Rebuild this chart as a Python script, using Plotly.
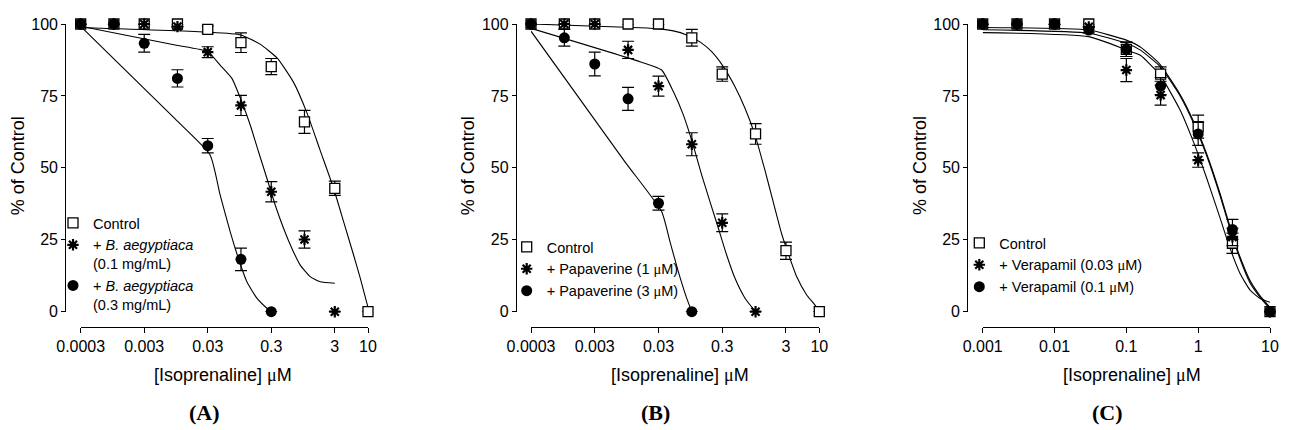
import plotly.graph_objects as go
import math

W, H = 1289, 430

# ---------------- Panel A data ----------------
A_x = [0.0003, 0.001, 0.003, 0.01, 0.03, 0.1, 0.3, 1, 3, 10]
A_ctrl = [100, 100, 100, 100, 98.1, 93.5, 85.2, 66, 42.9, 0]
A_ctrl_err = [0, 0, 0, 0, 1.2, 3.4, 2.8, 4, 2.5, 0]
A_star_x = [0.0003, 0.001, 0.003, 0.01, 0.03, 0.1, 0.3, 1, 3]
A_star = [100, 100, 100, 99.1, 90.2, 71.7, 41.7, 25.1, 0]
A_star_err = [0, 0, 0, 0, 1.9, 3.5, 3.5, 3, 0]
A_circ_x = [0.0003, 0.001, 0.003, 0.01, 0.03, 0.1, 0.3]
A_circ = [100, 100, 93.3, 81.1, 57.7, 18.2, 0]
A_circ_err = [0, 0, 3.1, 3, 2.5, 3.9, 0]

A_ctrl_cx = [0.0003, 0.03, 0.1, 0.2, 0.37, 0.67, 1.09, 1.77, 2.87, 4.13, 5.93, 7.57, 10]
A_ctrl_cy = [98.8, 97.2, 96.2, 93.0, 88.2, 79.8, 69.2, 56.0, 42.9, 31.3, 19.7, 11.6, 1.5]
A_star_cx = [0.0003, 0.0092, 0.03, 0.047, 0.072, 0.103, 0.14, 0.189, 0.256, 0.346, 0.468, 0.634, 0.857, 1.23, 1.77, 3.0]
A_star_cy = [99.2, 92.7, 90.4, 85.7, 81.1, 73, 64.9, 55.6, 46.4, 37.1, 29, 22, 16.2, 12.2, 10.4, 9.9]
A_circ_cx = [0.0003, 0.0092, 0.0327, 0.047, 0.0676, 0.0912, 0.124, 0.178, 0.256, 0.3]
A_circ_cy = [99.2, 67.0, 54.5, 40.6, 27.8, 18.5, 10.4, 4.7, 1.2, 0]

# ---------------- Panel B data ----------------
B_x = [0.0003, 0.001, 0.003, 0.01, 0.03, 0.1, 0.3, 1, 3, 10]
B_ctrl = [100, 100, 100, 100, 100, 95.2, 82.6, 61.8, 21.2, 0]
B_ctrl_err = [0, 0, 0, 0, 0, 2.9, 2.5, 3.6, 3, 0]
B_star_x = [0.0003, 0.001, 0.003, 0.01, 0.03, 0.1, 0.3, 1]
B_star = [100, 100, 100, 91, 78.4, 58.2, 30.9, 0]
B_star_err = [0, 0, 0, 3, 3.5, 4, 3.1, 0]
B_circ_x = [0.0003, 0.001, 0.003, 0.01, 0.03, 0.1]
B_circ = [100, 95.2, 86.1, 74, 37.7, 0]
B_circ_err = [0, 2.9, 4.1, 4, 2.4, 0]

B_ctrl_cx = [0.0003, 0.0154, 0.0317, 0.0513, 0.083, 0.134, 0.205, 0.312, 0.476, 0.683, 0.98, 1.41, 1.9, 2.57, 3.0, 4.41, 6.34, 8.57, 10]
B_ctrl_cy = [100, 98.7, 98.3, 97.6, 96.2, 93.8, 90.4, 85.2, 78.2, 70.7, 61.4, 49, 38, 27, 22.5, 12.2, 5.8, 2.3, 0]
B_star_cx = [0.0003, 0.0154, 0.0336, 0.0513, 0.0736, 0.105, 0.143, 0.193, 0.261, 0.352, 0.476, 0.683, 1.0]
B_star_cy = [98.5, 86.9, 84, 76.5, 68.4, 57.9, 47.5, 38.2, 29, 19.7, 11.6, 4.7, 0]
B_circ_cx = [0.0003, 0.009, 0.0336, 0.0455, 0.0614, 0.083, 0.1]
B_circ_cy = [97.5, 52, 34.8, 24.3, 13.9, 4.7, 0]

# ---------------- Panel C data ----------------
C_x = [0.001, 0.003, 0.01, 0.03, 0.1, 0.3, 1, 3, 10]
C_ctrl = [100, 100, 100, 100, 91.2, 82.6, 64.3, 23.8, 0]
C_ctrl_err = [0, 0, 0, 0, 2.5, 2.5, 4, 3.5, 0]
C_star = [100, 100, 100, 99, 84, 75.3, 52.7, 26, 0]
C_star_err = [0, 0, 0, 0, 4, 3.5, 2.5, 3, 0]
C_circ = [100, 100, 100, 97.9, 91.2, 78.4, 61.8, 28.6, 0]
C_circ_err = [0, 0, 0, 1, 2.5, 3, 4, 3.5, 0]

C_cx = [0.001, 0.03, 0.1, 0.155, 0.294, 0.56, 0.857, 1.315, 2.02, 2.78, 3.83, 5.28, 7.28, 10]
C_ctrl_cy = [98.8, 97.9, 94.4, 92.1, 86, 75.5, 66.3, 54.8, 41, 29.5, 19, 10.8, 5.5, 1.5]
C_circ_cy = [98, 96.8, 93.3, 91, 85.3, 75, 65.7, 54.2, 40.3, 28.7, 18.3, 10, 5, 1]
C_star_cy = [97, 95.6, 91, 89.2, 82.3, 70.1, 59.1, 46.4, 32.5, 22, 13.3, 7.5, 4.6, 3.3]

# ---------------- tick labels / texts ----------------
AB_tickvals = [0.0003, 0.003, 0.03, 0.3, 3, 10]
AB_ticktext = ["0.0003", "0.003", "0.03", "0.3", "3", "10"]
C_tickvals = [0.001, 0.01, 0.1, 1, 10]
C_ticktext = ["0.001", "0.01", "0.1", "1", "10"]
Y_tickvals = [0, 25, 50, 75, 100]

MU = '<span style="font-family:Liberation Serif">μ</span>'
X_TITLE = "[Isoprenaline] " + MU + "M"
Y_TITLE = "% of Control"
A_names = ["Control", "+ <i>B. aegyptiaca</i><br>(0.1 mg/mL)", "+ <i>B. aegyptiaca</i><br>(0.3 mg/mL)"]
B_names = ["Control", "+ Papaverine (1 " + MU + "M)", "+ Papaverine (3 " + MU + "M)"]
C_names = ["Control", "+ Verapamil (0.03 " + MU + "M)", "+ Verapamil (0.1 " + MU + "M)"]
PANELS = ["(A)", "(B)", "(C)"]

SANS = "Liberation Sans, Arial, sans-serif"
SERIF = "Liberation Serif, Times New Roman, serif"

fig = go.Figure()

def px2x(p):
    return p / W

def py2y(p):
    return (H - p) / H

def curve(xs, ys, xa, ya):
    fig.add_trace(go.Scatter(x=xs, y=ys, mode="lines", xaxis=xa, yaxis=ya,
                             line=dict(color="black", width=1.1, shape="spline", smoothing=0.5),
                             showlegend=False, hoverinfo="skip"))

def pts(xs, ys, err, kind, name, xa, ya, leg):
    if kind == "sq":
        marker = dict(symbol="square", size=10, color="white", line=dict(color="black", width=1.3))
    elif kind == "st":
        marker = dict(symbol="asterisk", size=9.5, color="black", line=dict(color="black", width=2.2))
    else:
        marker = dict(symbol="circle", size=11, color="black", line=dict(color="black", width=0))
    fig.add_trace(go.Scatter(x=xs, y=ys, mode="markers", xaxis=xa, yaxis=ya, name=name,
                             marker=marker, cliponaxis=False, legend=leg,
                             error_y=dict(type="data", array=err, visible=True, color="black",
                                          thickness=1.2, width=6)))

# Panel A
curve(A_ctrl_cx, A_ctrl_cy, "x", "y")
curve(A_star_cx, A_star_cy, "x", "y")
curve(A_circ_cx, A_circ_cy, "x", "y")
pts(A_x, A_ctrl, A_ctrl_err, "sq", A_names[0], "x", "y", "legend")
pts(A_star_x, A_star, A_star_err, "st", A_names[1], "x", "y", "legend")
pts(A_circ_x, A_circ, A_circ_err, "ci", A_names[2], "x", "y", "legend")
# Panel B
curve(B_ctrl_cx, B_ctrl_cy, "x2", "y2")
curve(B_star_cx, B_star_cy, "x2", "y2")
curve(B_circ_cx, B_circ_cy, "x2", "y2")
pts(B_x, B_ctrl, B_ctrl_err, "sq", B_names[0], "x2", "y2", "legend2")
pts(B_star_x, B_star, B_star_err, "st", B_names[1], "x2", "y2", "legend2")
pts(B_circ_x, B_circ, B_circ_err, "ci", B_names[2], "x2", "y2", "legend2")
# Panel C
curve(C_cx, C_ctrl_cy, "x3", "y3")
curve(C_cx, C_circ_cy, "x3", "y3")
curve(C_cx, C_star_cy, "x3", "y3")
pts(C_x, C_ctrl, C_ctrl_err, "sq", C_names[0], "x3", "y3", "legend3")
pts(C_x, C_star, C_star_err, "st", C_names[1], "x3", "y3", "legend3")
pts(C_x, C_circ, C_circ_err, "ci", C_names[2], "x3", "y3", "legend3")

axis_common = dict(showline=True, linecolor="black", linewidth=1.3, ticks="outside",
                   tickcolor="black", tickwidth=1.3, showgrid=False, zeroline=False,
                   tickfont=dict(family=SANS, size=16, color="black"), anchor="free")

# pixel geometry of panels: (y-axis x, x-axis start, x-axis end, xrange)
geo = [
    (65.3, 80.7, 368.0, [math.log10(0.0003), 1], AB_tickvals, AB_ticktext),
    (516.0, 531.0, 819.3, [math.log10(0.0003), 1], AB_tickvals, AB_ticktext),
    (967.3, 982.7, 1270.0, [-3, 1], C_tickvals, C_ticktext),
]
Y_TOP, Y_BOT, XAX_Y = 24.0, 311.7, 326.7

layout = dict(width=W, height=H, margin=dict(l=0, r=0, t=0, b=0),
              paper_bgcolor="white", plot_bgcolor="white", template="none")
for i, (yx, x0, x1, xr, tv, tt) in enumerate(geo):
    sfx = "" if i == 0 else str(i + 1)
    layout["xaxis" + sfx] = dict(axis_common, type="log", range=xr, domain=[px2x(x0), px2x(x1)],
                                 position=py2y(XAX_Y), tickvals=tv, ticktext=tt, ticklen=5)
    layout["yaxis" + sfx] = dict(axis_common, range=[0, 100], domain=[py2y(Y_BOT), py2y(Y_TOP)],
                                 position=px2x(yx), tickvals=Y_tickvals, ticklen=4)

leg_common = dict(xanchor="left", yanchor="top", bgcolor="rgba(0,0,0,0)",
                  font=dict(family=SANS, size=14.5, color="black"), valign="top",
                  tracegroupgap=0, itemwidth=30, traceorder="normal")
layout["legend"] = dict(leg_common, x=px2x(53), y=py2y(207))
layout["legend2"] = dict(leg_common, x=px2x(506.7), y=py2y(231))
layout["legend3"] = dict(leg_common, x=px2x(959.3), y=py2y(227))

ann = []
ytitle_x = [18.3, 468.3, 920.0]
xtitle_x = [222.7, 680.0, 1131.7]
panel_x = [204.0, 655.7, 1107.5]
for i in range(3):
    ann.append(dict(text=Y_TITLE, x=px2x(ytitle_x[i]), y=py2y(166), xref="paper", yref="paper",
                    textangle=-90, showarrow=False, xanchor="center", yanchor="middle",
                    font=dict(family=SANS, size=18, color="black")))
    ann.append(dict(text=X_TITLE, x=px2x(xtitle_x[i]), y=py2y(375), xref="paper", yref="paper",
                    showarrow=False, xanchor="center", yanchor="middle",
                    font=dict(family=SANS, size=18, color="black")))
    ann.append(dict(text="<b>" + PANELS[i] + "</b>", x=px2x(panel_x[i]), y=py2y(412), xref="paper",
                    yref="paper", showarrow=False, xanchor="center", yanchor="middle",
                    font=dict(family=SERIF, size=22, color="black")))
layout["annotations"] = ann

fig.update_layout(**layout)
fig.write_html("out.html", config={"displayModeBar": False},
               post_script="document.body.style.margin='0px';document.body.style.overflow='hidden';")
